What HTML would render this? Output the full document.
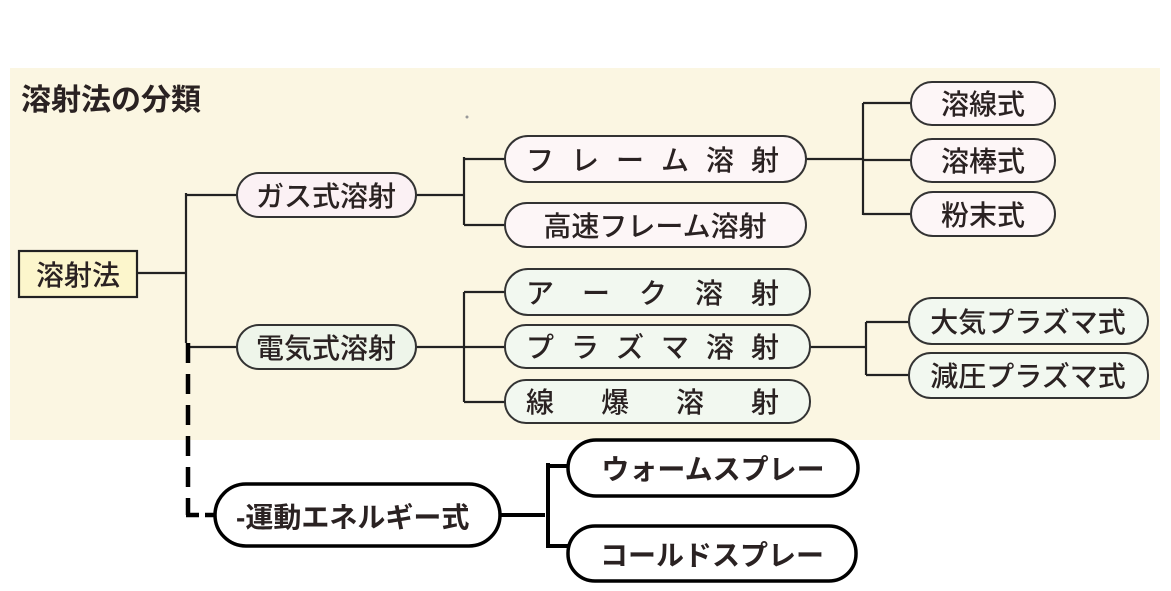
<!DOCTYPE html>
<html><head><meta charset="utf-8"><style>
html,body{margin:0;padding:0;background:#fff;}
svg{display:block;}
text{font-family:"Liberation Sans","Noto Sans CJK JP",sans-serif;fill:#2a2222;}
</style></head><body>
<svg width="1171" height="591" viewBox="0 0 1171 591" xmlns="http://www.w3.org/2000/svg">
<rect x="10" y="68" width="1150" height="372" fill="#fbf6e2"/>
<text x="21" y="110" font-size="30" font-weight="bold" fill="#333">溶射法の分類</text>
<circle cx="467" cy="117" r="1.5" fill="#999"/>
<g stroke="#222" stroke-width="2.2" fill="none">
<path d="M137 273H186M186 193V343M186 195H237M186 347H237"/>
<path d="M416 195H464M464 157V225M464 159H505M464 225H505"/>
<path d="M806 159H863M863 103V215M863 103H911M863 160H911M863 214H911"/>
<path d="M416 347H464M464 292V402M464 292H505M464 347H505M464 402H505"/>
<path d="M810 347H866M866 322V375M866 322H909M866 375H909"/>
</g>
<g stroke="#000" stroke-width="4.5" fill="none">
<path d="M188 343V515" stroke-dasharray="20 11"/>
<path d="M186 515H199M205 515H215"/>
<path d="M500 515H545M548 463V548M548 466H568M548 546H568" stroke-width="4"/>
</g>
<rect x="19" y="251" width="118" height="46" fill="#fcf6cc" stroke="#222" stroke-width="2.2"/>
<text x="78" y="285" font-size="28" font-weight="500" text-anchor="middle">溶射法</text>
<g stroke="#333" stroke-width="2">
<rect x="237" y="173" width="179" height="44" rx="22" fill="#fbf1f4"/>
<rect x="237" y="325" width="179" height="44" rx="22" fill="#eef5ea"/>
<rect x="505" y="136" width="301" height="46" rx="23" fill="#fdf6f7"/>
<rect x="505" y="203" width="301" height="44" rx="22" fill="#fdf6f7"/>
<rect x="911" y="82" width="144" height="43" rx="21" fill="#fdf6f7"/>
<rect x="911" y="139" width="144" height="43" rx="21" fill="#fdf6f7"/>
<rect x="911" y="192" width="144" height="44" rx="22" fill="#fdf6f7"/>
<rect x="505" y="269" width="305" height="46" rx="23" fill="#f2f8f0"/>
<rect x="505" y="325" width="305" height="43" rx="21" fill="#f2f8f0"/>
<rect x="505" y="380" width="305" height="43" rx="21" fill="#f2f8f0"/>
<rect x="909" y="298" width="239" height="46" rx="23" fill="#f2f8f0"/>
<rect x="909" y="353" width="239" height="45" rx="22" fill="#f2f8f0"/>
</g>
<g font-size="28" font-weight="500" text-anchor="middle">
<text x="326" y="206">ガス式溶射</text>
<text x="326" y="358">電気式溶射</text>
<text y="170"><tspan x="540">フ</tspan><tspan x="585">レ</tspan><tspan x="630">ー</tspan><tspan x="675">ム</tspan><tspan x="720">溶</tspan><tspan x="765">射</tspan></text>
<text x="655" y="236">高速フレーム溶射</text>
<text x="983" y="114">溶線式</text>
<text x="983" y="171">溶棒式</text>
<text x="983" y="225">粉末式</text>
<text y="303"><tspan x="540">ア</tspan><tspan x="596">ー</tspan><tspan x="653">ク</tspan><tspan x="709">溶</tspan><tspan x="765">射</tspan></text>
<text y="357"><tspan x="540">プ</tspan><tspan x="585">ラ</tspan><tspan x="630">ズ</tspan><tspan x="675">マ</tspan><tspan x="720">溶</tspan><tspan x="765">射</tspan></text>
<text y="412"><tspan x="540">線</tspan><tspan x="615">爆</tspan><tspan x="690">溶</tspan><tspan x="765">射</tspan></text>
<text x="1028" y="332">大気プラズマ式</text>
<text x="1028" y="386">減圧プラズマ式</text>
</g>
<g stroke="#000" stroke-width="3.5" fill="#fff">
<rect x="215" y="484" width="285" height="62" rx="31"/>
<rect x="568" y="440" width="290" height="56" rx="28"/>
<rect x="568" y="526" width="288" height="55" rx="27"/>
</g>
<g font-size="28" font-weight="bold">
<text x="236" y="527" fill="#000">-運動エネルギー式</text>
<text x="713" y="479" text-anchor="middle" fill="#000">ウォームスプレー</text>
<text x="712" y="565" text-anchor="middle" fill="#000">コールドスプレー</text>
</g>
</svg>
</body></html>
